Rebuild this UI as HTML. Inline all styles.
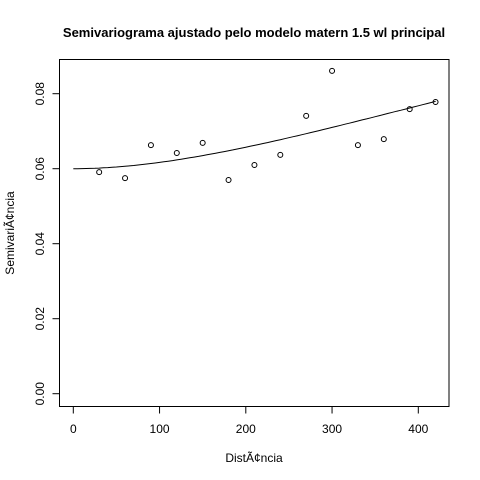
<!DOCTYPE html>
<html><head><meta charset="utf-8"><style>
body{margin:0;background:#fff}
svg{display:block;font-family:"Liberation Sans",sans-serif}
</style></head><body>
<svg id="chart" width="480" height="480" xmlns="http://www.w3.org/2000/svg">
<rect width="480" height="480" fill="#fff"/>
<text x="254" y="37" font-size="13" font-weight="bold" text-anchor="middle">Semivariograma ajustado pelo modelo matern 1.5 wl principal</text>
<rect x="59.5" y="59.5" width="389.5" height="347" fill="none" stroke="#000"/>
<g id="axes"></g>
<path id="curve" fill="none" stroke="#000" stroke-width="1"/>
<g id="pts"></g>
<text x="254" y="462" font-size="12" text-anchor="middle">DistÃ¢ncia</text>
<text transform="translate(14,233) rotate(-90)" font-size="12" text-anchor="middle">SemivariÃ¢ncia</text>
</svg>
<script>
const distances=[30,60,90,120,150,180,210,240,270,300,330,360,390,420];
const semivariance=[0.0591,0.0575,0.0663,0.0642,0.0669,0.0570,0.0610,0.0637,0.0741,0.0861,0.0663,0.0679,0.0759,0.0778];
const xTicks=[0,100,200,300,400];
const yTicks=[0.00,0.02,0.04,0.06,0.08];
const yTickLabels=["0.00","0.02","0.04","0.06","0.08"];
const nugget=0.0600, sill=0.0635, phi=400;
const NS="http://www.w3.org/2000/svg";
const xs=v=>73.3+v*0.8625;
const ys=v=>393.7-v*3750;
const ax=document.getElementById('axes');
function el(t,a,p){const e=document.createElementNS(NS,t);for(const k in a)e.setAttribute(k,a[k]);p.appendChild(e);return e;}
const xl=el('line',{x1:xs(xTicks[0]),x2:xs(xTicks[xTicks.length-1]),y1:406.5,y2:406.5,stroke:'#000'},ax);


xTicks.forEach(t=>{
 const l=el('line',{x1:xs(t),x2:xs(t),y1:406.5,y2:413.5,stroke:'#000'},ax);
 
 
 const tx=el('text',{x:xs(t),y:433,'font-size':12,'text-anchor':'middle'},ax);tx.textContent=t;
 
 
});
const yl=el('line',{x1:59.5,x2:59.5,y1:ys(yTicks[0]),y2:ys(yTicks[yTicks.length-1]),stroke:'#000'},ax);


yTicks.forEach((t,i)=>{
 const l=el('line',{x1:52.5,x2:59.5,y1:ys(t),y2:ys(t),stroke:'#000'},ax);
 
 
 const tx=el('text',{transform:`translate(44,${ys(t)}) rotate(-90)`,'font-size':12,'text-anchor':'middle'},ax);tx.textContent=yTickLabels[i];
 
 
});
let d='';
for(let h=0;h<=420;h+=5){const r=h/phi;const g=nugget+sill*(1-(1+r)*Math.exp(-r));d+=(h?'L':'M')+xs(h).toFixed(1)+','+ys(g).toFixed(1);}
document.getElementById('curve').setAttribute('d',d);
const pg=document.getElementById('pts');
distances.forEach((x,i)=>{
 const c=el('circle',{cx:xs(x),cy:ys(semivariance[i]),r:2.5,fill:'none',stroke:'#000'},pg);
 
 
});
</script>
</body></html>
